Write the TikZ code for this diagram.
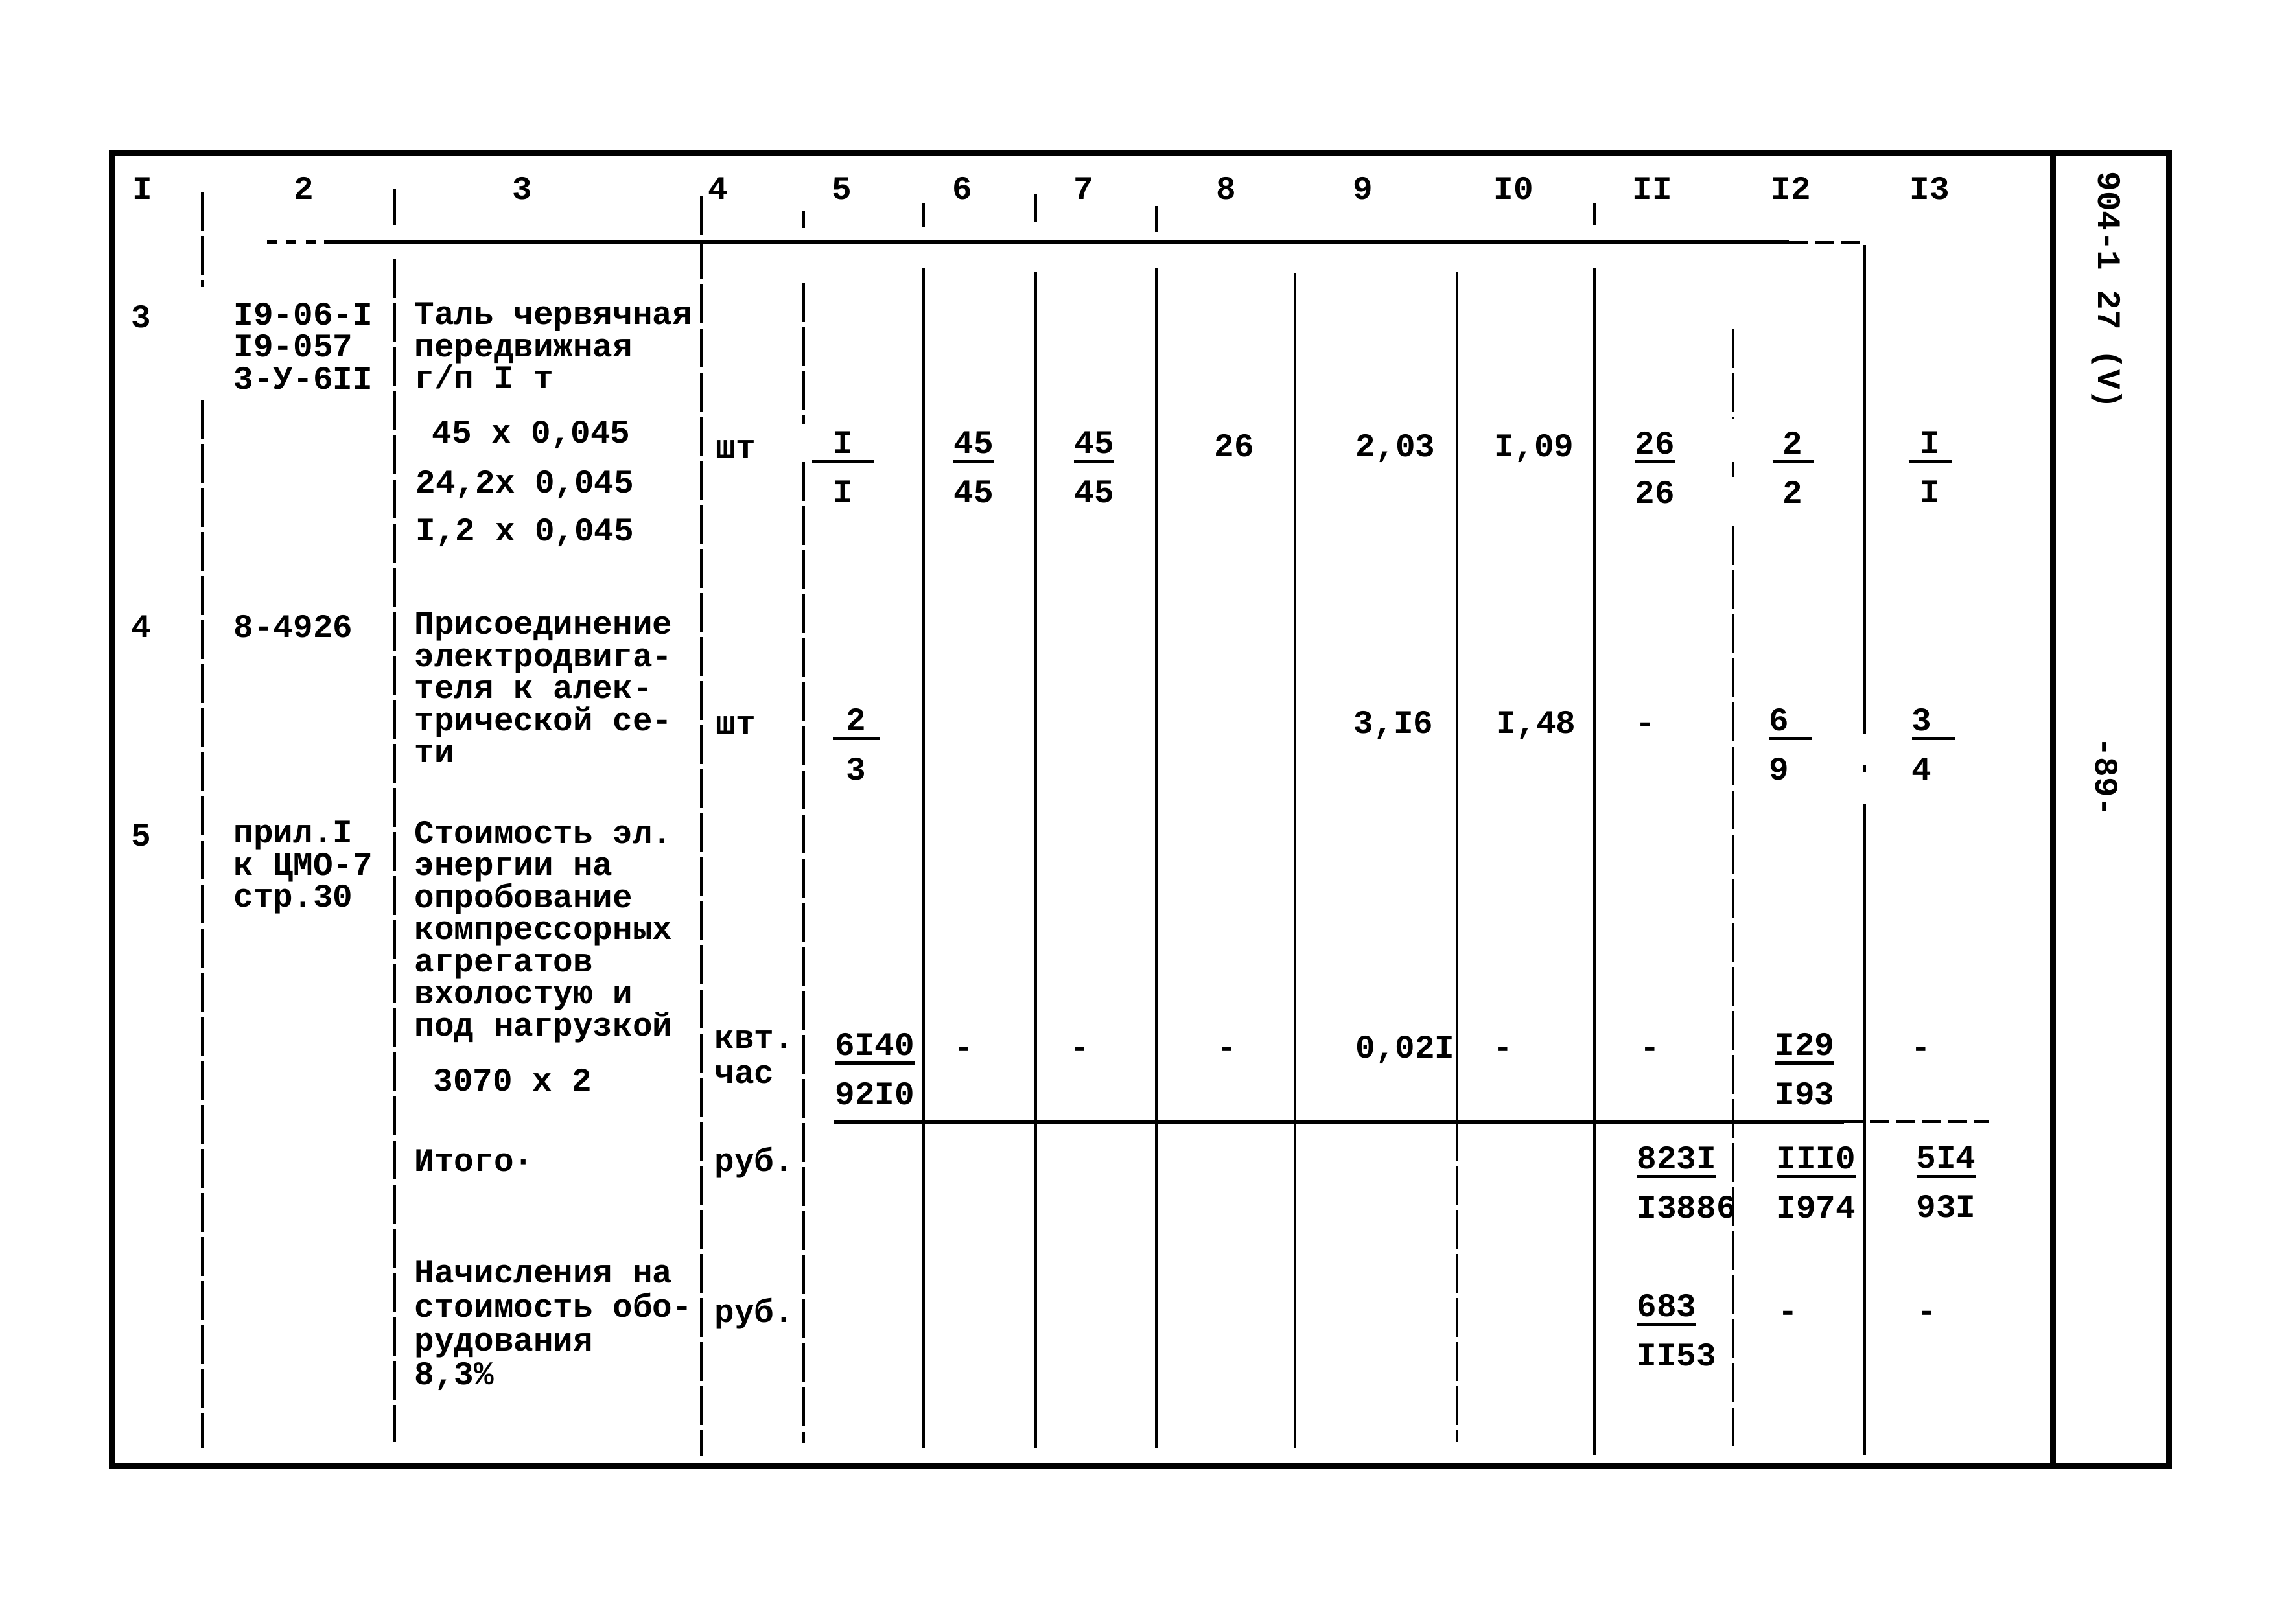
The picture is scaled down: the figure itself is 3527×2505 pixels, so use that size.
\documentclass[tikz,border=0pt]{standalone}
\usepackage{fontspec}
\setmainfont{Liberation Mono}

\newcommand{\tw}{\fontsize{14.5}{14.1}\selectfont\bfseries}
\newcommand{\twf}{\fontsize{14.5}{21.6}\selectfont\bfseries}
\newcommand{\ul}[1]{\setbox0\hbox{#1}\rlap{\rule[-1.5mm]{\wd0}{0.5mm}}\box0}
\newcommand{\fr}[3][]{\ifx\relax#1\relax\ul{#2}\else\ul{\makebox[#1]{#2}}\fi\\#3}

\begin{document}
\begin{tikzpicture}[x=0.1mm, y=-0.1mm,
    frame/.style={line width=0.9mm},
    rule/.style={line width=0.4mm},
    brk/.style={line width=0.4mm, dash pattern=on 6mm off 0.8mm},
    num/.style={anchor=base, inner sep=0pt, font=\tw},
    top/.style={inner sep=0pt, yshift=11pt, execute at begin node={\rule{0pt}{11pt}}},
    txt/.style={top, anchor=north west, align=left, font=\tw},
    frc/.style={top, anchor=north, align=center, font=\twf},
    frcl/.style={top, anchor=north west, align=left, font=\twf}]
  \useasboundingbox (0,0) rectangle (3527,2505);

  % outer frame and side strip
  \draw[frame] (172,236) rectangle (3346,2262);
  \draw[frame] (3167,236) -- (3167,2262);

  % horizontal rules
  \draw[line width=0.6mm, dash pattern=on 1.5mm off 1.5mm] (412,374) -- (500,374);
  \draw[line width=0.6mm] (500,374) -- (2760,374);
  \draw[line width=0.5mm, dash pattern=on 3mm off 1mm] (2760,374) -- (2875,374);
  \draw[line width=0.5mm] (1287,1731) -- (2845,1731);
  \draw[line width=0.4mm, dash pattern=on 3mm off 1mm] (2845,1731) -- (3069,1731);

  % column rules
  \foreach \x/\a/\b in {1425/314/350, 1425/414/2235, 1598/300/343, 1598/419/2235,
      1784/318/358, 1784/414/2235, 1998/421/2235, 2248/419/1731,
      2460/314/347, 2460/414/2245, 2877/378/1132, 2877/1180/1192, 2877/1240/2245}
    \draw[rule] (\x,\a) -- (\x,\b);
  \foreach \x/\a/\b in {312/296/443, 312/617/2235, 609/291/347, 609/400/2225,
      1082/303/2247, 1240/325/352, 1240/437/655, 1240/713/2227, 2248/1731/2225,
      2674/508/646, 2674/713/736, 2674/812/2238}
    \draw[brk] (\x,\a) -- (\x,\b);

  % column numbers
  \foreach \x/\t [count=\i] in {220/I, 469/2, 806/3, 1108/4, 1299/5, 1485/6, 1672/7,
      1892/8, 2103/9, 2335/I0, 2549/II, 2763/I2, 2977/I3}
    \node (h\i) at (\x,307) [num] {\t};

  % row 3
  \node (n3) at (218,505) [num] {3};
  \node (c3) at (360,505) [txt] {I9-06-I\\I9-057\\3-У-6II};
  \node (d3) at (639,505) [txt] {Таль червячная\\передвижная\\г/п I т};
  \node (d3a) at (666,683) [txt] {45 x 0,045};
  \node (d3b) at (641,760) [txt] {24,2x 0,045};
  \node (d3c) at (641,834) [txt] {I,2 x 0,045};
  \node (u3) at (1104,706) [txt] {шт};
  \node (f35) at (1301,704) [frc] {\fr[9.6mm]{I}{I}};
  \node (f36) at (1502,704) [frc] {\fr{45}{45}};
  \node (f37) at (1688,704) [frc] {\fr{45}{45}};
  \node (v38) at (1904,704) [num] {26};
  \node (v39) at (2153,704) [num] {2,03};
  \node (v310) at (2367,704) [num] {I,09};
  \node (f311) at (2553,704) [frc] {\fr{26}{26}};
  \node (f312) at (2766,704) [frc] {\fr[6.3mm]{2}{2}};
  \node (f313) at (2978,704) [frc] {\fr[6.7mm]{I}{I}};

  % row 4
  \node (n4) at (218,983) [num] {4};
  \node (c4) at (360,983) [txt] {8-4926};
  \node (d4) at (639,983) [txt] {Присоединение\\электродвига-\\теля к алек-\\трической се-\\ти};
  \node (u4) at (1104,1132) [txt] {шт};
  \node (f45) at (1321,1131) [frc] {\fr[7.3mm]{2}{3}};
  \node (v49) at (2150,1131) [num] {3,I6};
  \node (v410) at (2370,1131) [num] {I,48};
  \node (v411) at (2539,1131) [num] {-};
  \node (f412) at (2729,1131) [frcl] {\ul{\makebox[6.6mm][l]{6}}\\9};
  \node (f413) at (2949,1131) [frcl] {\ul{\makebox[6.6mm][l]{3}}\\4};

  % row 5
  \node (n5) at (218,1305) [num] {5};
  \node (c5) at (360,1305) [txt] {прил.I\\к ЦМО-7\\стр.30};
  \node (d5) at (639,1305) [txt] {Стоимость эл.\\энергии на\\опробование\\компрессорных\\агрегатов\\вхолостую и\\под нагрузкой};
  \node (d5a) at (668,1683) [txt] {3070 x 2};
  \node (u5) at (1102,1628) [txt, font=\fontsize{14.5}{15.6}\selectfont\bfseries] {квт.\\час};
  \node (f55) at (1288,1632) [frcl] {\fr{6I40}{92I0}};
  \node (v56) at (1487,1632) [num] {-};
  \node (v57) at (1666,1632) [num] {-};
  \node (v58) at (1893,1632) [num] {-};
  \node (v59) at (2168,1632) [num] {0,02I};
  \node (v510) at (2319,1632) [num] {-};
  \node (v511) at (2546,1632) [num] {-};
  \node (f512) at (2738,1632) [frcl] {\fr{I29}{I93}};
  \node (v513) at (2964,1632) [num] {-};

  % totals
  \node (t3) at (639,1807) [txt] {Итого·};
  \node (t4) at (1102,1807) [txt] {руб.};
  \node (t11) at (2525,1807) [frcl] {\fr{823I}{I3886}};
  \node (t12) at (2740,1807) [frcl] {\fr{III0}{I974}};
  \node (t13) at (2956,1807) [frcl] {\fr{5I4}{93I}};

  % accruals
  \node (a3) at (639,1984) [txt, font=\fontsize{14.5}{14.9}\selectfont\bfseries] {Начисления на\\стоимость обо-\\рудования\\8,3\%};
  \node (a4) at (1102,2040) [txt] {руб.};
  \node (a11) at (2525,2035) [frcl] {\fr{683}{II53}};
  \node (a12) at (2759,2039) [num] {-};
  \node (a13) at (2973,2039) [num] {-};

  % side strip
  \node (code) at (3251,448) [num, anchor=center, rotate=-90] {904-1 27 (V)};
  \node (page) at (3250,1199) [num, anchor=center, rotate=-90] {-89-};
\end{tikzpicture}
\end{document}
